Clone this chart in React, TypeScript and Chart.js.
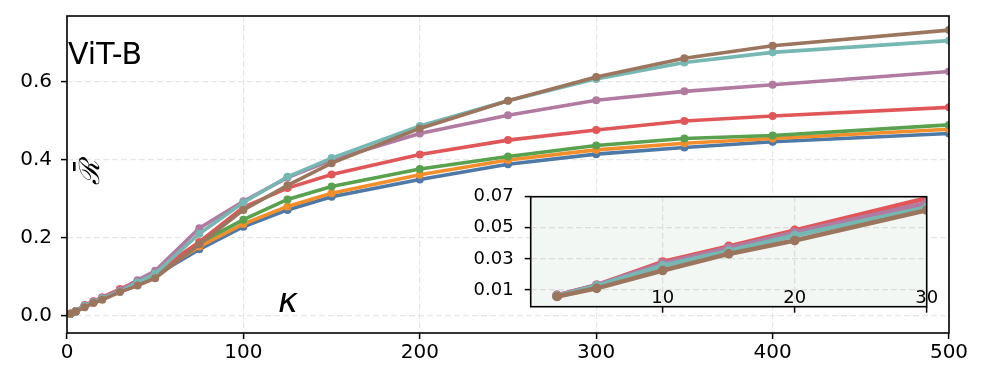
import React, { useEffect, useRef } from "react";
import { Chart, registerables } from "chart.js";
Chart.register(...registerables);

// ---- data ----
const kValues = [2, 5, 10, 15, 20, 30, 40, 50, 75, 100, 125, 150, 200, 250, 300, 350, 400, 500];
const seriesBlue = [0.006, 0.0125, 0.026, 0.0355, 0.0455, 0.064, 0.085, 0.104, 0.171, 0.229, 0.272, 0.306, 0.35, 0.389, 0.415, 0.432, 0.447, 0.468];
const seriesOrange = [0.006, 0.0125, 0.026, 0.036, 0.046, 0.065, 0.086, 0.106, 0.178, 0.236, 0.281, 0.315, 0.362, 0.4, 0.426, 0.443, 0.455, 0.479];
const seriesGreen = [0.006, 0.0125, 0.026, 0.036, 0.046, 0.0645, 0.087, 0.107, 0.187, 0.247, 0.299, 0.332, 0.377, 0.409, 0.437, 0.455, 0.463, 0.49];
const seriesRed = [0.0065, 0.013, 0.028, 0.038, 0.0483, 0.069, 0.09, 0.112, 0.19, 0.279, 0.328, 0.363, 0.414, 0.451, 0.477, 0.5, 0.513, 0.535];
const seriesPink = [0.0065, 0.013, 0.027, 0.037, 0.047, 0.066, 0.092, 0.116, 0.225, 0.294, 0.355, 0.4, 0.468, 0.515, 0.553, 0.576, 0.593, 0.627];
const seriesTeal = [0.006, 0.0125, 0.0255, 0.035, 0.045, 0.063, 0.086, 0.109, 0.211, 0.291, 0.357, 0.405, 0.487, 0.552, 0.608, 0.65, 0.676, 0.706];
const seriesBrown = [0.0058, 0.011, 0.0225, 0.0332, 0.0418, 0.0613, 0.078, 0.097, 0.184, 0.272, 0.335, 0.392, 0.481, 0.552, 0.613, 0.661, 0.693, 0.733];

const mainXTicks = [0, 100, 200, 300, 400, 500];
const mainYTicks = [0, 0.2, 0.4, 0.6];
const insetXTicks = [10, 20, 30];
const insetYTicks = [0.01, 0.03, 0.05, 0.07];
const insetMaxK = 30;

const titleText = "ViT-B";
const xLabelText = "κ";
const yLabelText = "ℛ";

// ---- styles ----
// drawing order bottom -> top
const seriesList = [
  { data: seriesBlue, color: "#4e79a7" },
  { data: seriesOrange, color: "#f28e2b" },
  { data: seriesGreen, color: "#59a14f" },
  { data: seriesRed, color: "#e15759" },
  { data: seriesPink, color: "#b07aa1" },
  { data: seriesTeal, color: "#76b7b2" },
  { data: seriesBrown, color: "#9c755f" },
];

const FONT = '"DejaVu Sans", sans-serif';

function buildDatasets(maxK: number, lw: number, r: number) {
  // Chart.js draws dataset 0 last (on top) so reverse
  return seriesList
    .map((s) => ({
      data: kValues
        .map((k, i) => ({ x: k, y: s.data[i] }))
        .filter((p) => p.x <= maxK),
      borderColor: s.color,
      backgroundColor: s.color,
      pointBackgroundColor: s.color,
      pointBorderColor: s.color,
      borderWidth: lw,
      pointRadius: r,
      pointBorderWidth: 0,
      tension: 0,
    }))
    .reverse();
}

const framePlugin = {
  id: "frame",
  beforeDraw(chart: any, _a: any, opts: any) {
    if (opts && opts.fill) {
      const { left, top, right, bottom } = chart.chartArea;
      const ctx = chart.ctx;
      ctx.save();
      ctx.fillStyle = opts.fill;
      ctx.fillRect(left, top, right - left, bottom - top);
      ctx.restore();
    }
  },
  afterDraw(chart: any, _a: any, opts: any) {
    const { left, top, right, bottom } = chart.chartArea;
    const ctx = chart.ctx;
    ctx.save();
    ctx.strokeStyle = "#000";
    ctx.lineWidth = (opts && opts.width) || 1.6;
    ctx.strokeRect(left, top, right - left, bottom - top);
    ctx.restore();
  },
};

const labelsPlugin = {
  id: "labels",
  afterDraw(chart: any, _a: any, opts: any) {
    if (!opts || !opts.enabled) return;
    const ctx = chart.ctx;
    ctx.save();
    ctx.fillStyle = "#000";
    ctx.font = `30px ${FONT}`;
    ctx.textAlign = "left";
    ctx.textBaseline = "alphabetic";
    ctx.fillText(titleText, 68, 64);

    ctx.font = `italic 34px ${FONT}`;
    ctx.textAlign = "center";
    ctx.fillText(xLabelText, 288, 312);

    ctx.translate(91.5, 172.5);
    ctx.rotate(-Math.PI / 2);
    ctx.font = `italic 28px "DejaVu Serif", serif`;
    ctx.textAlign = "center";
    ctx.textBaseline = "middle";
    ctx.fillText(yLabelText, 0, 0);
    // bar over the symbol
    ctx.fillRect(1.5, -18.5, 9, 2.6);
    ctx.restore();
  },
};

const noPadV = (s: any, w: number) => {
  s.width = w;
  s.paddingTop = 0;
  s.paddingBottom = 0;
};
const noPadH = (s: any, h: number) => {
  s.height = h;
  s.paddingLeft = 0;
  s.paddingRight = 0;
};

export default function App() {
  const mainRef = useRef<HTMLCanvasElement | null>(null);
  const insetRef = useRef<HTMLCanvasElement | null>(null);

  useEffect(() => {
    const gridCommon = (color: string) => ({
      color,
      lineWidth: 1.2,
      tickColor: "#000",
      tickLength: 6,
      tickWidth: 1.5,
      drawTicks: true,
    });

    const main = new Chart(mainRef.current as HTMLCanvasElement, {
      type: "line",
      data: { datasets: buildDatasets(Infinity, 3.6, 4) as any },
      options: {
        responsive: false,
        animation: false,
        devicePixelRatio: 1,
        layout: { autoPadding: false, padding: { left: 0, top: 16, right: 39, bottom: 0 } },
        plugins: {
          legend: { display: false },
          tooltip: { enabled: false },
          labels: { enabled: true },
          frame: { width: 1.6 },
        } as any,
        scales: {
          x: {
            type: "linear",
            min: 0,
            max: 500,
            afterBuildTicks: (s: any) => {
              s.ticks = mainXTicks.map((v) => ({ value: v }));
            },
            afterFit: (s: any) => noPadH(s, 50),
            grid: gridCommon("#e6e6e6") as any,
            border: { display: false, dash: [6, 3] },
            ticks: {
              color: "#000",
              font: { family: FONT, size: 20 },
              padding: 2,
              maxRotation: 0,
              autoSkip: false,
              callback: (v: any) => String(v),
            },
          },
          y: {
            type: "linear",
            min: -0.0435,
            max: 0.7692,
            afterBuildTicks: (s: any) => {
              s.ticks = mainYTicks.map((v) => ({ value: v }));
            },
            afterFit: (s: any) => noPadV(s, 67),
            grid: gridCommon("#e6e6e6") as any,
            border: { display: false, dash: [6, 3] },
            ticks: {
              color: "#000",
              font: { family: FONT, size: 20 },
              padding: 9,
              autoSkip: false,
              callback: (v: any) => Number(v).toFixed(1),
            },
          },
        },
      },
      plugins: [framePlugin, labelsPlugin],
    });

    const inset = new Chart(insetRef.current as HTMLCanvasElement, {
      type: "line",
      data: { datasets: buildDatasets(insetMaxK, 4.6, 4.8) as any },
      options: {
        responsive: false,
        animation: false,
        devicePixelRatio: 1,
        layout: { autoPadding: false, padding: { left: 0, top: 11.7, right: 13.3, bottom: 0 } },
        plugins: {
          legend: { display: false },
          tooltip: { enabled: false },
          frame: { width: 1.6, fill: "#f2f7f3" },
        } as any,
        scales: {
          x: {
            type: "linear",
            min: 0,
            max: 30,
            afterBuildTicks: (s: any) => {
              s.ticks = insetXTicks.map((v) => ({ value: v }));
            },
            afterFit: (s: any) => noPadH(s, 13.3),
            grid: gridCommon("#dcdcdc") as any,
            border: { display: false, dash: [6, 3] },
            ticks: {
              color: "#000",
              font: { family: FONT, size: 18 },
              mirror: true,
              padding: -2.4,
              maxRotation: 0,
              autoSkip: false,
              callback: (v: any) => String(v),
            },
          },
          y: {
            type: "linear",
            min: -0.0008,
            max: 0.07,
            afterBuildTicks: (s: any) => {
              s.ticks = insetYTicks.map((v) => ({ value: v }));
            },
            afterFit: (s: any) => noPadV(s, 70.7),
            grid: gridCommon("#dcdcdc") as any,
            border: { display: false, dash: [6, 3] },
            ticks: {
              color: "#000",
              font: { family: FONT, size: 18 },
              padding: 11,
              autoSkip: false,
              callback: (v: any) => Number(v).toFixed(2),
            },
          },
        },
      },
      plugins: [framePlugin],
    });

    return () => {
      main.destroy();
      inset.destroy();
    };
  }, []);

  return (
    <div style={{ position: "absolute", left: 0, top: 0, width: 988, height: 383, background: "#fff" }}>
      <canvas ref={mainRef} width={988} height={383} style={{ position: "absolute", left: 0, top: 0, width: 988, height: 383 }} />
      <canvas ref={insetRef} width={480} height={135} style={{ position: "absolute", left: 460, top: 185, width: 480, height: 135 }} />
    </div>
  );
}
